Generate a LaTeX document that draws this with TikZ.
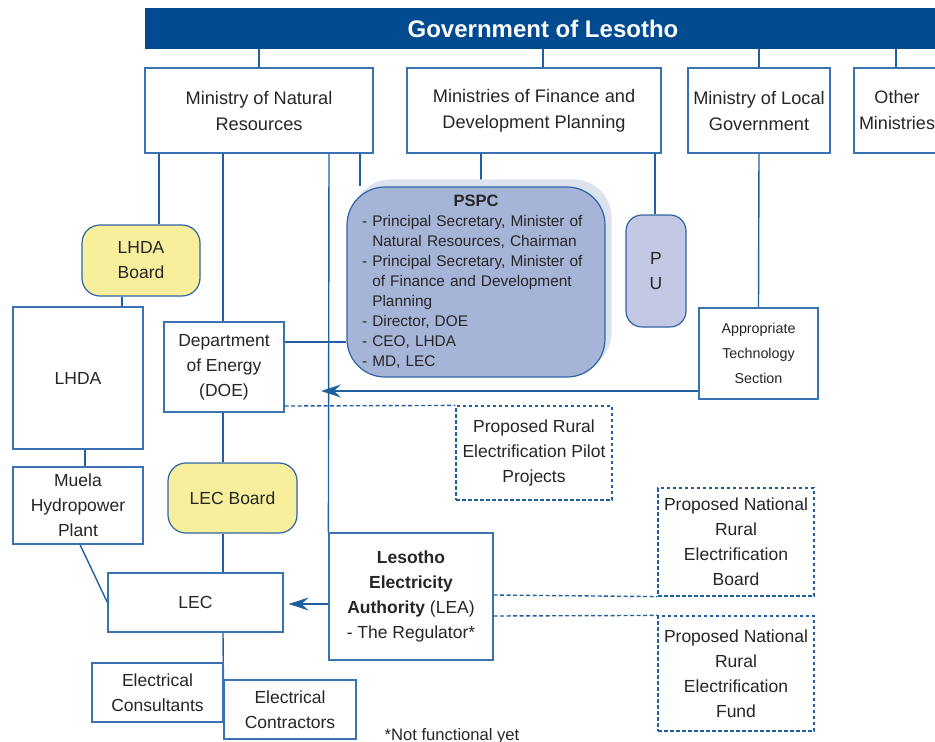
\documentclass[tikz,border=0pt]{standalone}
\usepackage{fontspec}
\setmainfont{Liberation Sans}
\usetikzlibrary{arrows.meta,backgrounds,calc}
\definecolor{barblue}{HTML}{004A8F}
\definecolor{lineblue}{HTML}{2160A0}
\definecolor{bordblue}{HTML}{3A72B4}
\definecolor{yel}{HTML}{F7EF9C}
\definecolor{pspcfill}{HTML}{A6B4D8}
\definecolor{pspcline}{HTML}{2E64A8}
\definecolor{pufill}{HTML}{C3C9E4}
\definecolor{shadowc}{HTML}{DDE2EF}
\definecolor{ink}{HTML}{262626}
\begin{document}
\begin{tikzpicture}[x=1pt,y=-1pt,
  every node/.style={inner sep=1pt, align=center, text=ink},
  box/.style={draw=bordblue, line width=1.2pt, fill=white, rectangle, font=\fontsize{17.5}{25}\selectfont},
  ybox/.style={box, fill=yel, draw=pspcline, rounded corners=18pt},
  dbox/.style={box, draw=lineblue, dash pattern=on 3.5pt off 2.5pt},
  conn/.style={draw=lineblue, line width=1.4pt},
  dconn/.style={conn, dash pattern=on 4pt off 2.5pt},
  arr/.style={conn, -{Stealth[length=20pt,width=13pt,inset=7pt]}},
]
\useasboundingbox (0,0) rectangle (935,742);

% top bar
\node[fill=barblue, minimum width=796pt, minimum height=41pt, text=white,
      font=\bfseries\fontsize{24}{28}\selectfont] (gov) at (543,28.5) {Government of Lesotho};

% ministries
\node[box, minimum width=228pt, minimum height=85pt, font=\fontsize{18.2}{26}\selectfont] (mnr) at (259,110.5) {Ministry of Natural\\Resources};
\node[box, minimum width=254pt, minimum height=85pt, font=\fontsize{18.2}{26}\selectfont] (mfd) at (534,110.5) {Ministries of Finance and\\Development Planning};
\node[box, minimum width=142pt, minimum height=85pt, font=\fontsize{18.2}{26}\selectfont] (mlg) at (759,110.5) {Ministry of Local\\Government};
\node[box, minimum width=86pt, minimum height=85pt, font=\fontsize{18}{26}\selectfont] (oth) at (897,110.5) {Other\\Ministries};

% PSPC
\node[draw=pspcline, line width=1.2pt, fill=pspcfill, rounded corners=38pt,
      minimum width=258pt, minimum height=190pt, text width=228pt, align=left,
      font=\fontsize{15.4}{20}\selectfont] (pspc) at (476,282)
  {\makebox[\hsize]{\bfseries\fontsize{16.5}{20}\selectfont PSPC}\\
   - Principal Secretary, Minister of\\
   \phantom{-\ }Natural Resources, Chairman\\
   - Principal Secretary, Minister of\\
   \phantom{-\ }of Finance and Development\\
   \phantom{-\ }Planning\\
   - Director, DOE\\
   - CEO, LHDA\\
   - MD, LEC};

\node[draw=pspcline, line width=1.2pt, fill=pufill, rounded corners=16pt,
      minimum width=60pt, minimum height=112pt, font=\fontsize{17.5}{25}\selectfont] (pu) at (656,271) {P\\U};

\node[box, minimum width=119pt, minimum height=91pt, font=\fontsize{14.3}{25}\selectfont] (ats) at (758.5,353.5) {Appropriate\\Technology\\Section};

\node[box, minimum width=120pt, minimum height=90pt] (doe) at (224,367) {Department\\of Energy\\(DOE)};
\node[dbox, minimum width=156pt, minimum height=94pt] (pilot) at (534,453) {Proposed Rural\\Electrification Pilot\\Projects};

\node[ybox, minimum width=118pt, minimum height=71pt] (lhdab) at (141,260.5) {LHDA\\Board};
\node[box, minimum width=130pt, minimum height=142pt] (lhda) at (78,378) {LHDA};
\node[box, minimum width=130pt, minimum height=77pt] (muela) at (78,505.5) {Muela\\Hydropower\\Plant};

\node[ybox, minimum width=129pt, minimum height=70pt] (lecb) at (232.5,498) {LEC Board};
\node[box, minimum width=175pt, minimum height=59pt] (lec) at (195.5,602.5) {LEC};

\node[box, minimum width=164pt, minimum height=127pt] (lea) at (411,596.5)
  {\textbf{Lesotho}\\\textbf{Electricity}\\\textbf{Authority} (LEA)\\- The Regulator*};

\node[dbox, minimum width=156pt, minimum height=108pt, inner xsep=0pt] (nreb) at (736,542) {Proposed National\\Rural\\Electrification\\Board};
\node[dbox, minimum width=156pt, minimum height=115pt, inner xsep=0pt] (nref) at (736,673.5) {Proposed National\\Rural\\Electrification\\Fund};

\node[box, minimum width=131pt, minimum height=59pt] (cons) at (157.5,692.5) {Electrical\\Consultants};
\node[box, minimum width=132pt, minimum height=59pt] (cont) at (290,709.5) {Electrical\\Contractors};

\node[font=\fontsize{16.6}{20}\selectfont] (note) at (452,736) {*Not functional yet};

\coordinate (arrtip) at (321,391);

\begin{pgfonlayer}{background}
  % government to ministries
  \draw[conn] (gov.south -| 259,0) -- (mnr.north -| 259,0);
  \draw[conn] (gov.south -| 543,0) -- (mfd.north -| 543,0);
  \draw[conn] (gov.south -| 759,0) -- (mlg.north -| 759,0);
  \draw[conn] (gov.south -| 896,0) -- (oth.north -| 896,0);
  % from Natural Resources
  \draw[conn] (mnr.south -| 159,0) -- (lhdab.north -| 159,0);
  \draw[conn] (mnr.south -| 223,0) -- (doe.north -| 223,0);
  \draw[conn] (mnr.south -| 329,0) -- (lea.north west);
  \draw[conn] (mnr.south -| 360,0) -- (pspc.north -| 360,0);
  % from Finance
  \draw[conn] (mfd.south -| 481,0) -- (pspc.north -| 481,0);
  \draw[conn] (mfd.south -| 655,0) -- (pu.north -| 655,0);
  % from Local Government
  \draw[conn] (mlg.south) -- (ats.north);
  % LHDA chain
  \draw[conn] (lhdab.south -| 122,0) -- (lhda.north -| 122,0);
  \draw[conn] (lhda.south -| 85,0) -- (muela.north -| 85,0);
  \draw[conn] (muela.south -| 80,0) -- (lec.west);
  % DOE
  \draw[conn] (doe.east |- 0,342) -- (pspc.west |- 0,342);
  \draw[conn] (doe.south -| 223,0) -- (lecb.north -| 223,0);
  \draw[conn] (lecb.south -| 223,0) -- (lec.north -| 223,0);
  \draw[conn] (lec.south -| 223,0) -- (cont.north west);
  % PSPC shadow, above the connectors and below the box
  \fill[shadowc, rounded corners=38pt] ($(pspc.south west)+(6,-7)$) rectangle ($(pspc.north east)+(6,-7)$);
\end{pgfonlayer}

\draw[arr] (ats.west |- 0,391) -- (arrtip);
\draw[dconn] (doe.east |- 0,406) -- (pilot.north west);
\draw[arr, shorten >=5pt] (lea.west |- 0,604) -- (lec.east |- 0,604);
\draw[dconn] (lea.east |- 0,595) -- (nreb.south west);
\draw[dconn] (lea.east |- 0,616) -- (nref.north west);
\end{tikzpicture}
\end{document}
